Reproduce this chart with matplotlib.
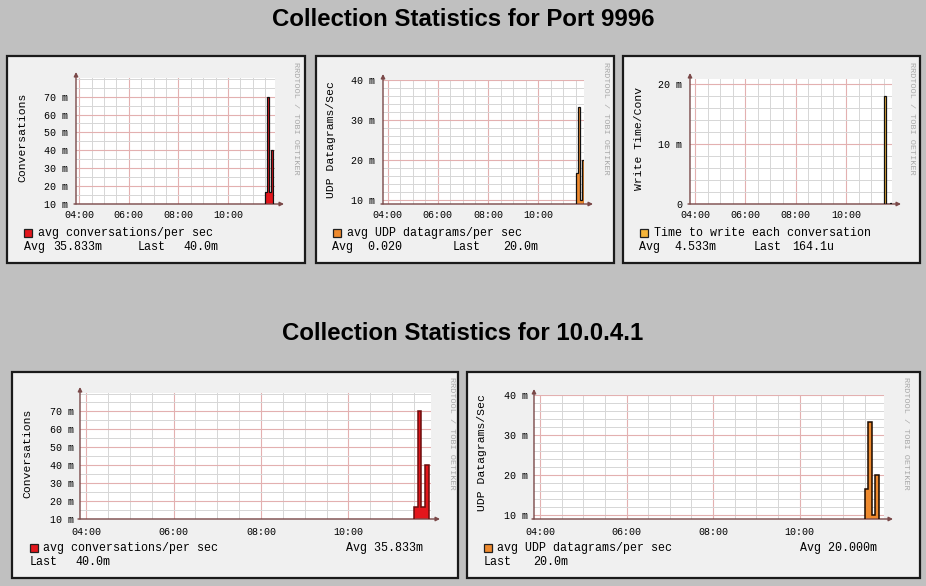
import numpy as np
import matplotlib
matplotlib.use("Agg")
import matplotlib.pyplot as plt
from matplotlib.patches import Rectangle
from matplotlib.ticker import FixedLocator, FuncFormatter

# ---------------- data ----------------
interval_start_hours = [11.5, 11.5833, 11.6667, 11.75]   # 5-minute samples
conversations_m = [16.667, 70.0, 16.667, 40.0]          # milli-conversations / s
udp_datagrams_m = [16.667, 33.333, 10.0, 20.0]          # milli-datagrams / s
write_time_m = [17.968, 0.0, 0.0, 0.164]                # milli-seconds
x_tick_labels = ["04:00", "06:00", "08:00", "10:00"]
x_tick_hours = [4, 6, 8, 10]
title_port = "Collection Statistics for Port 9996"
title_host = "Collection Statistics for 10.0.4.1"

W, H = 926, 586
fig = plt.figure(figsize=(W / 100, H / 100), dpi=100, facecolor="#c0c0c0")

MONO = ["Liberation Mono", "DejaVu Sans Mono"]
AXC = "#7a4848"


def fr(x, y, w, h):
    return [x / W, 1 - (y + h) / H, w / W, h / H]


def ftext(x, y, s, **kw):
    kw.setdefault("family", MONO)
    kw.setdefault("va", "center")
    fig.text(x / W, 1 - y / H, s, **kw)


def panel_box(x0, y0, x1, y1):
    fig.patches.append(Rectangle((x0 / W, 1 - y1 / H), (x1 - x0) / W, (y1 - y0) / H,
                                 transform=fig.transFigure, facecolor="#f0f0f0",
                                 edgecolor="#1a1a1a", lw=1.6, zorder=-5))


def legend_square(x, y, color):
    fig.patches.append(Rectangle((x / W, 1 - (y + 8) / H), 8 / W, 8 / H,
                                 transform=fig.transFigure, facecolor=color,
                                 edgecolor="#202020", lw=0.9, zorder=3))


def make_plot(px, py, pw, ph, ylim, ymajor, yminor, ylabel_fmt, values, fill, edge,
              lw, xlim=(3.87, 11.9), fs_tick=7.2, tick_pad_x=4.5, tick_pad_y=5.5):
    ax = fig.add_axes(fr(px, py, pw, ph))
    ax.set_facecolor("white")
    ax.set_xlim(*xlim)
    ax.set_ylim(*ylim)
    for s in ax.spines.values():
        s.set_visible(False)
    ax.xaxis.set_major_locator(FixedLocator(x_tick_hours))
    ax.xaxis.set_major_formatter(FuncFormatter(lambda v, p: x_tick_labels[x_tick_hours.index(int(round(v)))]))
    ax.xaxis.set_minor_locator(FixedLocator(np.arange(4.5, 12.0, 0.5)))
    ax.yaxis.set_major_locator(FixedLocator(ymajor))
    ax.yaxis.set_minor_locator(FixedLocator(yminor))
    ax.yaxis.set_major_formatter(FuncFormatter(ylabel_fmt))
    ax.tick_params(which="both", length=0)
    ax.tick_params(axis="x", pad=tick_pad_x, labelsize=fs_tick)
    ax.tick_params(axis="y", pad=tick_pad_y, labelsize=fs_tick)
    for lab in ax.get_xticklabels() + ax.get_yticklabels():
        lab.set_family(MONO)
    ax.grid(which="minor", color="#d6d6d6", lw=0.7)
    ax.grid(which="major", color="#e3b0b0", lw=0.8)
    ax.set_axisbelow(True)

    # data as steps
    t = np.array(interval_start_hours)
    v = np.array(values)
    edges = np.append(t, t[-1] + 5 / 60)
    base = ylim[0]
    xs = np.concatenate([[edges[0]], np.repeat(edges[1:-1], 2), [edges[-1]]])
    ys = np.repeat(v, 2)
    ax.fill_between(xs, base, ys, color=fill, lw=0, zorder=3)
    ax.plot(np.concatenate([[xs[0]], xs, [xs[-1]]]), np.concatenate([[base], ys, [base]]),
            color=edge, lw=lw, zorder=4, solid_joinstyle="miter")

    # axes with arrows
    ax.annotate("", xy=(1 + 9 / pw, 0), xytext=(-2 / pw, 0), xycoords="axes fraction",
                arrowprops=dict(arrowstyle="-|>", color=AXC, lw=1.0, mutation_scale=6,
                                shrinkA=0, shrinkB=0), annotation_clip=False)
    ax.annotate("", xy=(0, 1 + 6 / ph), xytext=(0, 0), xycoords="axes fraction",
                arrowprops=dict(arrowstyle="-|>", color=AXC, lw=1.0, mutation_scale=6,
                                shrinkA=0, shrinkB=0), annotation_clip=False)
    return ax


m_fmt = lambda v, p: f"{v:.0f} m"
z_fmt = lambda v, p: "0" if abs(v) < 1e-9 else f"{v:.0f} m"

# ---------------- titles ----------------
fig.text(463 / W, 1 - 19.5 / H, title_port, ha="center", va="center",
         family=["Liberation Sans", "DejaVu Sans"], weight="bold", fontsize=17.3)
fig.text(463 / W, 1 - 333.5 / H, title_host, ha="center", va="center",
         family=["Liberation Sans", "DejaVu Sans"], weight="bold", fontsize=17.3)

RED, RED_E = "#e3161c", "#111111"
ORG, ORG_E = "#ee8a2e", "#111111"
YEL, YEL_E = "#f4b43a", "#111111"
WM = "RRDTOOL / TOBI OETIKER"
WMS = 6.1

# ---------------- top row ----------------
# panel 1
panel_box(7, 56, 305, 263)
make_plot(76, 78, 199, 126, (10, 80.4), np.arange(10, 71, 10), np.arange(15, 81, 5),
          m_fmt, conversations_m, RED, RED_E, 0.9)
ftext(22, 137, "Conversations", rotation=90, ha="center", fontsize=8.2)
ftext(295, 118, WM, rotation=270, ha="center", fontsize=WMS, color="#a8a8a8")
legend_square(24, 229, RED)
ftext(38, 233, "avg conversations/per sec", fontsize=8.4)
ftext(24, 247, "Avg", fontsize=8.4)
ftext(53, 247, "35.833m", fontsize=8.4)
ftext(138, 247, "Last", fontsize=8.4)
ftext(183, 247, "40.0m", fontsize=8.4)

# panel 2
panel_box(316, 56, 614, 263)
make_plot(383, 80, 201, 124, (9.0, 40.0), np.arange(10, 41, 10), np.arange(12, 40, 2),
          m_fmt, udp_datagrams_m, ORG, ORG_E, 0.9, xlim=(3.82, 11.82))
ftext(331, 140, "UDP Datagrams/Sec", rotation=90, ha="center", fontsize=8.2)
ftext(605, 118, WM, rotation=270, ha="center", fontsize=WMS, color="#a8a8a8")
legend_square(333, 229, ORG)
ftext(347, 233, "avg UDP datagrams/per sec", fontsize=8.4)
ftext(332, 247, "Avg", fontsize=8.4)
ftext(367, 247, "0.020", fontsize=8.4)
ftext(453, 247, "Last", fontsize=8.4)
ftext(503, 247, "20.0m", fontsize=8.4)

# panel 3
panel_box(623, 56, 920, 263)
make_plot(690, 79, 202, 125, (0, 20.8), [0, 10, 20], np.arange(2, 21, 2),
          z_fmt, write_time_m, YEL, YEL_E, 0.9, xlim=(3.8, 11.83))
ftext(639, 138, "Write Time/Conv", rotation=90, ha="center", fontsize=8.2)
ftext(911, 118, WM, rotation=270, ha="center", fontsize=WMS, color="#a8a8a8")
legend_square(640, 229, YEL)
ftext(654, 233, "Time to write each conversation", fontsize=8.4)
ftext(639, 247, "Avg", fontsize=8.4)
ftext(674, 247, "4.533m", fontsize=8.4)
ftext(754, 247, "Last", fontsize=8.4)
ftext(792, 247, "164.1u", fontsize=8.4)

# ---------------- bottom row ----------------
# panel 4
panel_box(12, 372, 458, 578)
make_plot(80, 393, 351, 126, (10, 80.3), np.arange(10, 71, 10), np.arange(15, 81, 5),
          m_fmt, conversations_m, RED, "#6a0d0d", 1.1, xlim=(3.86, 11.89), tick_pad_x=5.5,
          tick_pad_y=4.5)
ftext(27, 453, "Conversations", rotation=90, ha="center", fontsize=8.2)
ftext(451, 433, WM, rotation=270, ha="center", fontsize=WMS, color="#a8a8a8")
legend_square(30, 544, RED)
ftext(43, 548, "avg conversations/per sec", fontsize=8.4)
ftext(423, 548, "Avg 35.833m", fontsize=8.4, ha="right")
ftext(30, 562, "Last", fontsize=8.4)
ftext(75, 562, "40.0m", fontsize=8.4)

# panel 5
panel_box(467, 372, 920, 578)
make_plot(534, 395, 350, 124, (9.1, 40.0), np.arange(10, 41, 10), np.arange(12, 40, 2),
          m_fmt, udp_datagrams_m, ORG, "#1a0a00", 1.1, xlim=(3.86, 11.95), tick_pad_x=5.5,
          tick_pad_y=4.5)
ftext(482, 453, "UDP Datagrams/Sec", rotation=90, ha="center", fontsize=8.2)
ftext(906, 433, WM, rotation=270, ha="center", fontsize=WMS, color="#a8a8a8")
legend_square(484, 544, ORG)
ftext(497, 548, "avg UDP datagrams/per sec", fontsize=8.4)
ftext(877, 548, "Avg 20.000m", fontsize=8.4, ha="right")
ftext(484, 562, "Last", fontsize=8.4)
ftext(533, 562, "20.0m", fontsize=8.4)

fig.savefig("out.png", dpi=100, facecolor=fig.get_facecolor())
